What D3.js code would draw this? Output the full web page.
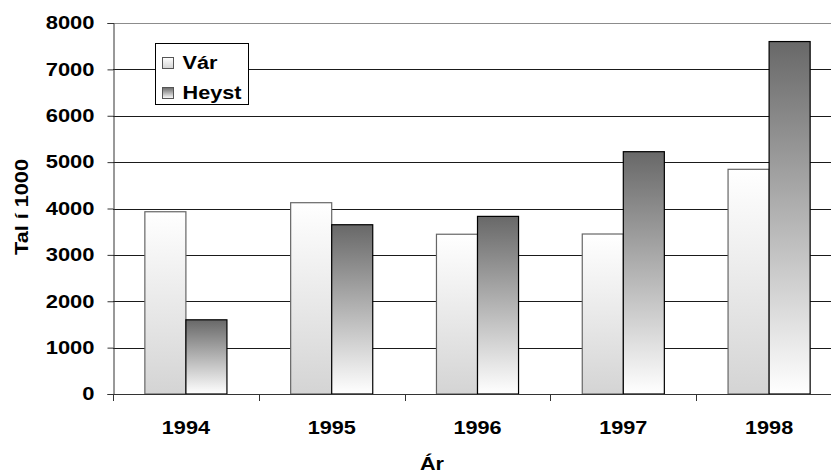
<!DOCTYPE html>
<head>
  <meta charset="utf-8">
  <title>Tal í 1000 - Vár og Heyst</title>
  <style>
    body { margin: 0; background: #fff; }
    text { font-family: "Liberation Sans", Arial, sans-serif; font-weight: bold; fill: #000; }
  </style>
</head>
<body>
  <script src="https://cdn.jsdelivr.net/npm/d3@7/dist/d3.min.js"></script>
  <script>
    // data
    var years = ["1994", "1995", "1996", "1997", "1998"];
    var series = ["Vár", "Heyst"];
    var varValues = [3930, 4125, 3445, 3450, 4845];
    var heystValues = [1600, 3650, 3830, 5225, 7600];
    var yTicks = [0, 1000, 2000, 3000, 4000, 5000, 6000, 7000, 8000];

    var w = 831, h = 474;
    var plotLeft = 113, plotRight = 842, plotTop = 23, plotBottom = 394;
    var stretch = 1.14; // the font in the picture is drawn wide

    var svg = d3.select("body").append("svg").attr("width", w).attr("height", h);

    // gradients for the two series
    var defs = svg.append("defs");
    var g1 = defs.append("linearGradient").attr("id", "gVar").attr("x1", 0).attr("y1", 0).attr("x2", 0).attr("y2", 1);
    g1.append("stop").attr("offset", "0%").attr("stop-color", "#ffffff");
    g1.append("stop").attr("offset", "100%").attr("stop-color", "#d4d4d4");
    var g2 = defs.append("linearGradient").attr("id", "gHeyst").attr("x1", 0).attr("y1", 0).attr("x2", 0).attr("y2", 1);
    g2.append("stop").attr("offset", "0%").attr("stop-color", "#686868");
    g2.append("stop").attr("offset", "100%").attr("stop-color", "#ffffff");

    var fills = { "Vár": "url(#gVar)", "Heyst": "url(#gHeyst)" };
    var strokes = { "Vár": "#666", "Heyst": "#000" };

    var x0 = d3.scaleBand().domain(years).range([plotLeft, plotRight]).paddingInner(0.437).paddingOuter(0.2185);
    var x1 = d3.scaleBand().domain(series).range([0, x0.bandwidth()]);
    var y = d3.scaleLinear().domain([0, 8000]).range([plotBottom, plotTop]);
    var step = x0.step();

    // gridlines
    svg.append("g").selectAll("line")
      .data(yTicks.filter(function(d) { return d > 0; }))
      .enter().append("line")
      .attr("x1", plotLeft).attr("x2", w)
      .attr("y1", function(d) { return Math.round(y(d)) + 0.5; })
      .attr("y2", function(d) { return Math.round(y(d)) + 0.5; })
      .attr("stroke", function(d) { return d == 8000 ? "#8c8c8c" : "#1a1a1a"; })
      .attr("stroke-width", 1);

    // bars
    var table = years.map(function(yr, i) {
      return { year: yr, vals: [{ s: "Vár", v: varValues[i] }, { s: "Heyst", v: heystValues[i] }] };
    });

    svg.append("g").selectAll("g")
      .data(table)
      .enter().append("g")
      .attr("transform", function(d) { return "translate(" + x0(d.year) + ",0)"; })
      .selectAll("rect")
      .data(function(d) { return d.vals; })
      .enter().append("rect")
      .attr("x", function(d) { return x1(d.s); })
      .attr("y", function(d) { return y(d.v); })
      .attr("width", x1.bandwidth())
      .attr("height", function(d) { return plotBottom - y(d.v); })
      .attr("fill", function(d) { return fills[d.s]; })
      .attr("stroke", function(d) { return strokes[d.s]; })
      .attr("stroke-width", 1.2);

    // y axis
    var yStretch = 1.22;
    var yAxis = d3.axisLeft(y).tickValues(yTicks).tickSize(6).tickFormat(d3.format("d"));
    var ya = svg.append("g").attr("transform", "translate(" + (plotLeft + 0.5) + ",0)").call(yAxis);
    ya.select(".domain").attr("stroke", "#333");
    ya.selectAll(".tick line").attr("stroke", "#333");
    ya.selectAll(".tick text").style("font-size", "18px")
      .attr("transform", "scale(" + yStretch + ",1)")
      .attr("x", -19 / yStretch);

    // x axis: ticks sit between the categories
    var xTicks = d3.range(years.length + 1).map(function(i) { return plotLeft + i * step; });
    svg.append("line").attr("x1", plotLeft).attr("x2", w).attr("y1", plotBottom + 0.5).attr("y2", plotBottom + 0.5).attr("stroke", "#333");
    svg.append("g").selectAll("line").data(xTicks).enter().append("line")
      .attr("x1", function(d) { return Math.round(d) + 0.5; })
      .attr("x2", function(d) { return Math.round(d) + 0.5; })
      .attr("y1", plotBottom).attr("y2", plotBottom + 7)
      .attr("stroke", "#333");
    svg.append("g").selectAll("text").data(years).enter().append("text")
      .attr("transform", function(d) { return "translate(" + (x0(d) + x0.bandwidth() / 2) + ",434) scale(" + stretch + ",1)"; })
      .attr("text-anchor", "middle")
      .style("font-size", "19px")
      .text(function(d) { return d; });

    // axis titles
    svg.append("text")
      .attr("transform", "translate(28,207) rotate(-90) scale(" + stretch + ",1)")
      .attr("text-anchor", "middle")
      .style("font-size", "19px")
      .text("Tal í 1000");

    svg.append("text")
      .attr("transform", "translate(432,470) scale(" + stretch + ",1)")
      .attr("text-anchor", "middle")
      .style("font-size", "19px")
      .text("Ár");

    // legend
    var lg = svg.append("g").attr("transform", "translate(155.5,43.5)");
    lg.append("rect").attr("width", 93).attr("height", 61).attr("fill", "#fff").attr("stroke", "#000");
    var item = lg.selectAll(".item").data(series).enter().append("g")
      .attr("transform", function(d, i) { return "translate(7," + (14 + i * 30) + ")"; });
    item.append("rect").attr("width", 11).attr("height", 11)
      .attr("fill", function(d) { return fills[d]; }).attr("stroke", "#555");
    item.append("text")
      .attr("transform", "translate(20,11) scale(" + stretch + ",1)")
      .style("font-size", "19px")
      .text(function(d) { return d; });
  </script>
</body>
